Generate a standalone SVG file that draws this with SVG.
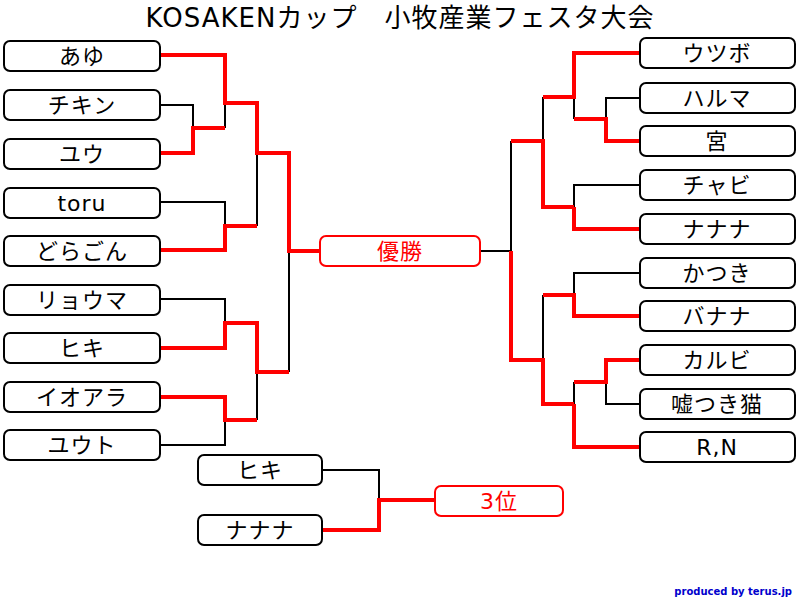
<svg xmlns="http://www.w3.org/2000/svg" width="800" height="600" viewBox="0 0 800 600">
<style>
.b rect{fill:#fff;stroke:#000;stroke-width:2}
.r rect{fill:#fff;stroke:#f00;stroke-width:2}
text{font-family:"DejaVu Sans","Noto Sans CJK JP",sans-serif;font-size:22px;text-anchor:middle;dominant-baseline:central;letter-spacing:1px}
.r text{fill:#f00}
.k{fill:none;stroke:#000;stroke-width:2}
.w{fill:none;stroke:#f00;stroke-width:4}
</style>
<rect width="800" height="600" fill="#fff"/>
<text x="400" y="18" style="font-size:26px">KOSAKENカップ　小牧産業フェスタ大会</text>
<g id="connectors">
<path class="k" d="M160 105H193V128M225 103V128M160 202H225V226M257 153V226M160 299H225V323M160 445H225V420M257 372V420M289 251V372"/>
<path class="w" d="M160 55H225V103H257V153H289V251H320M160 153H193V128H225M160 250H225V226H257M160 348H225V323H257V372H289M160 397H225V420H257"/>
<path class="k" d="M640 98H606V119M574 97V119M543 97V141M640 185H574V207M511 141V251M480 251H511M640 273H574V295M543 295V360M640 404H606V382M574 382V404"/>
<path class="w" d="M640 53H574V97H543M640 141H606V119H574M511 141H543V207H574M640 229H574V207M511 251V360H543V404H574M640 316H574V295H543M640 360H606V382H574M574 404V447H640"/>
<path class="k" d="M322 470H379V500"/>
<path class="w" d="M322 530H379V500H435"/>
</g>
<g id="n1" class="b"><rect x="4" y="41" width="156" height="30" rx="6"/><text x="82" y="56">あゆ</text></g>
<g id="n2" class="b"><rect x="4" y="90" width="156" height="30" rx="6"/><text x="82" y="105">チキン</text></g>
<g id="n3" class="b"><rect x="4" y="139" width="156" height="30" rx="6"/><text x="82" y="154">ユウ</text></g>
<g id="n4" class="b"><rect x="4" y="188" width="156" height="30" rx="6"/><text x="82" y="203">toru</text></g>
<g id="n5" class="b"><rect x="4" y="236" width="156" height="30" rx="6"/><text x="82" y="251">どらごん</text></g>
<g id="n6" class="b"><rect x="4" y="285" width="156" height="30" rx="6"/><text x="82" y="300">リョウマ</text></g>
<g id="n7" class="b"><rect x="4" y="333" width="156" height="30" rx="6"/><text x="82" y="348">ヒキ</text></g>
<g id="n8" class="b"><rect x="4" y="382" width="156" height="30" rx="6"/><text x="82" y="397">イオアラ</text></g>
<g id="n9" class="b"><rect x="4" y="430" width="156" height="30" rx="6"/><text x="82" y="445">ユウト</text></g>
<g id="m1" class="b"><rect x="640" y="38" width="155" height="30" rx="6"/><text x="717" y="53">ウツボ</text></g>
<g id="m2" class="b"><rect x="640" y="83" width="155" height="30" rx="6"/><text x="717" y="98">ハルマ</text></g>
<g id="m3" class="b"><rect x="640" y="126" width="155" height="30" rx="6"/><text x="717" y="141">宮</text></g>
<g id="m4" class="b"><rect x="640" y="170" width="155" height="30" rx="6"/><text x="717" y="185">チャビ</text></g>
<g id="m5" class="b"><rect x="640" y="214" width="155" height="30" rx="6"/><text x="717" y="229">ナナナ</text></g>
<g id="m6" class="b"><rect x="640" y="258" width="155" height="30" rx="6"/><text x="717" y="273">かつき</text></g>
<g id="m7" class="b"><rect x="640" y="301" width="155" height="30" rx="6"/><text x="717" y="316">バナナ</text></g>
<g id="m8" class="b"><rect x="640" y="345" width="155" height="30" rx="6"/><text x="717" y="360">カルビ</text></g>
<g id="m9" class="b"><rect x="640" y="389" width="155" height="30" rx="6"/><text x="717" y="404">嘘つき猫</text></g>
<g id="m10" class="b"><rect x="640" y="432" width="155" height="30" rx="6"/><text x="717" y="447">R,N</text></g>
<g id="win" class="r"><rect x="320" y="236" width="160" height="30" rx="6"/><text x="400" y="251">優勝</text></g>
<g id="t1" class="b"><rect x="198" y="455" width="124" height="30" rx="6"/><text x="260" y="470">ヒキ</text></g>
<g id="t2" class="b"><rect x="198" y="515" width="124" height="30" rx="6"/><text x="260" y="530">ナナナ</text></g>
<g id="third" class="r"><rect x="435" y="486" width="128" height="30" rx="6"/><text x="499" y="501">3位</text></g>
<text x="792" y="591" style="font-size:10px;font-weight:bold;fill:#00c;text-anchor:end;letter-spacing:0">produced by terus.jp</text>
</svg>
